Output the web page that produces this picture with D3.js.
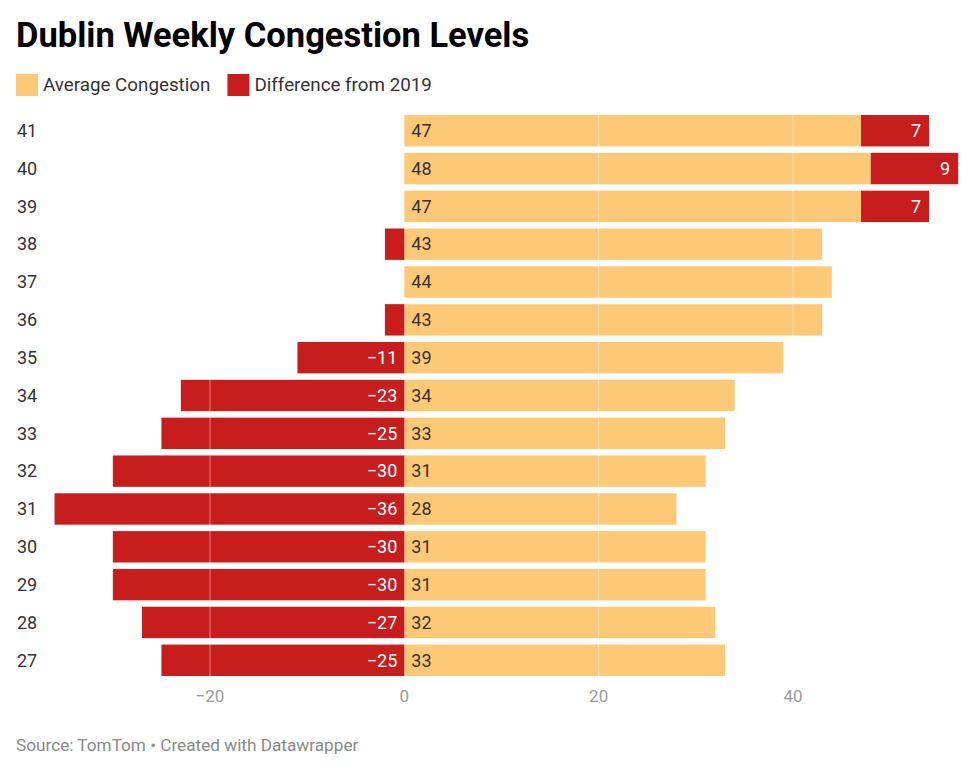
<!DOCTYPE html>
<html>
<head>
<meta charset="utf-8">
<script src="https://cdn.jsdelivr.net/npm/d3@7"></script>
<style>
  body { margin: 0; background: #fff; font-family: Roboto, sans-serif; }
</style>
</head>
<body>
<div id="chart"></div>
<script>
const weeks = ["41", "40", "39", "38", "37", "36", "35", "34", "33", "32", "31", "30", "29", "28", "27"];
const avgCongestion = [47, 48, 47, 43, 44, 43, 39, 34, 33, 31, 28, 31, 31, 32, 33];
const diffFrom2019 = [7, 9, 7, -2, 0, -2, -11, -23, -25, -30, -36, -30, -30, -27, -25];
const xTicks = [-20, 0, 20, 40];

const width = 977, height = 772;
const yellow = "#fec976", red = "#c71e1d";

const svg = d3.select("#chart").append("svg")
    .attr("width", width)
    .attr("height", height)
    .style("font-family", "Roboto, sans-serif");

svg.append("text")
    .attr("x", 16).attr("y", 47)
    .attr("font-size", 34.5).attr("font-weight", 700)
    .attr("fill", "#000")
    .text("Dublin Weekly Congestion Levels");

// legend
const legend = [["Average Congestion", yellow], ["Difference from 2019", red]];
let lx = 16;
legend.forEach(([name, c]) => {
    svg.append("rect").attr("x", lx).attr("y", 74).attr("width", 22).attr("height", 22).attr("fill", c);
    const t = svg.append("text").attr("x", lx + 27).attr("y", 91)
        .attr("font-size", 18.8).attr("fill", "#333").text(name);
    lx += 27 + t.node().getComputedTextLength() + 17;
});

const x = d3.scaleLinear().domain([-20, 40]).range([210, 793]);
const y = d3.scaleBand().domain(weeks).range([112, 679]).paddingInner(0.17).paddingOuter(0.08);

const rows = svg.append("g").selectAll("g")
    .data(weeks.map((w, i) => ({ w, avg: avgCongestion[i], diff: diffFrom2019[i] })))
    .join("g")
    .attr("transform", d => `translate(0,${y(d.w)})`);

rows.append("rect")
    .attr("x", x(0))
    .attr("width", d => x(d.avg) - x(0))
    .attr("height", y.bandwidth())
    .attr("fill", yellow);

rows.filter(d => d.diff !== 0).append("rect")
    .attr("x", d => d.diff > 0 ? x(d.avg) : x(d.diff))
    .attr("width", d => d.diff > 0 ? x(d.avg + d.diff) - x(d.avg) : x(0) - x(d.diff))
    .attr("height", y.bandwidth())
    .attr("fill", red);

// grid lines drawn over bars
svg.append("g").selectAll("line")
    .data(xTicks.filter(t => t !== 0))
    .join("line")
    .attr("x1", d => x(d)).attr("x2", d => x(d))
    .attr("y1", 112).attr("y2", 679)
    .attr("stroke", "#fff").attr("stroke-opacity", 0.45).attr("stroke-width", 1);

rows.append("text")
    .attr("x", 17)
    .attr("y", y.bandwidth() / 2)
    .attr("dy", "0.35em")
    .attr("font-size", 18).attr("fill", "#333")
    .text(d => d.w);

rows.append("text")
    .attr("x", x(0) + 7)
    .attr("y", y.bandwidth() / 2)
    .attr("dy", "0.35em")
    .attr("font-size", 18).attr("fill", "#333")
    .text(d => d.avg);

rows.filter(d => Math.abs(d.diff) > 3).append("text")
    .attr("x", d => d.diff > 0 ? x(d.avg + d.diff) - 8 : x(0) - 7)
    .attr("y", y.bandwidth() / 2)
    .attr("dy", "0.35em")
    .attr("text-anchor", "end")
    .attr("font-size", 18).attr("fill", "#fff")
    .text(d => d.diff < 0 ? "\u2212" + Math.abs(d.diff) : d.diff);

// x axis labels
svg.append("g").selectAll("text")
    .data(xTicks)
    .join("text")
    .attr("x", d => x(d))
    .attr("y", 702)
    .attr("text-anchor", "middle")
    .attr("font-size", 17).attr("fill", "#999")
    .text(d => d < 0 ? "\u2212" + Math.abs(d) : d);

svg.append("text")
    .attr("x", 16).attr("y", 751)
    .attr("font-size", 17.2).attr("fill", "#888")
    .text("Source: TomTom \u2022 Created with Datawrapper");
</script>
</body>
</html>
